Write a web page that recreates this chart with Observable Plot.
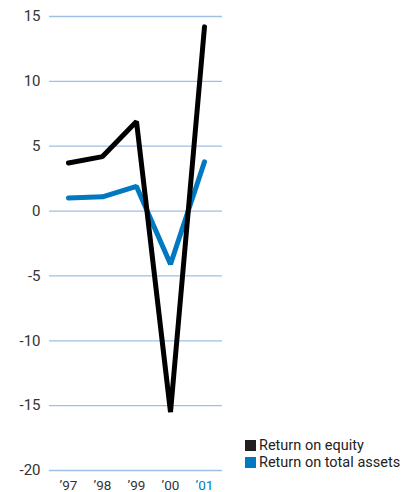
<!DOCTYPE html>
<html>
<head>
<meta charset="utf-8">
<script src="https://cdn.jsdelivr.net/npm/d3@7"></script>
<script src="https://cdn.jsdelivr.net/npm/@observablehq/plot@0.6"></script>
<style>
  body { margin: 0; background: #fff; font-family: Roboto, "Liberation Sans", sans-serif; }
  #wrap { position: relative; width: 415px; height: 492px; }
  #legend { position: absolute; left: 245px; top: 437px; font-size: 14.5px; color: #222; line-height: 17px; }
  #legend .sw { display: inline-block; width: 11px; height: 11px; margin-right: 3px; vertical-align: -1px; }
</style>
</head>
<body>
<div id="wrap"><div id="legend"></div></div>
<script>
const years = ["’97", "’98", "’99", "’00", "’01"];
const returnOnEquity = [3.7, 4.2, 6.9, -15.5, 14.2];
const returnOnTotalAssets = [1.0, 1.1, 1.9, -4.1, 3.8];
const yTicks = [15, 10, 5, 0, -5, -10, -15, -20];
const seriesNames = ["Return on equity", "Return on total assets"];
const seriesColors = ["#000000", "#0079c1"];

const rows = [];
years.forEach((y, i) => {
  rows.push({year: y, value: returnOnEquity[i], series: seriesNames[0]});
  rows.push({year: y, value: returnOnTotalAssets[i], series: seriesNames[1]});
});

const chart = Plot.plot({
  width: 415,
  height: 492,
  marginTop: 16,
  marginBottom: 22,
  marginLeft: 49,
  marginRight: 193,
  style: {fontFamily: "Roboto, 'Liberation Sans', sans-serif", background: "transparent"},
  x: {type: "point", domain: years, padding: 0.5, axis: null},
  y: {domain: [-20, 15], ticks: yTicks, axis: null},
  color: {domain: seriesNames, range: seriesColors},
  marks: [
    Plot.ruleY(yTicks, {stroke: "#9ec0e6", strokeWidth: 1.3}),
    Plot.axisY({ticks: yTicks, label: null, tickSize: 0, tickPadding: 9, tickFormat: d => String(d), fontSize: 15, fill: "#333", textAnchor: "end"}),
    Plot.line(rows.filter(d => d.series === seriesNames[1]), {x: "year", y: "value", stroke: seriesColors[1], strokeWidth: 5, strokeLinejoin: "miter", strokeLinecap: "round"}),
    Plot.line(rows.filter(d => d.series === seriesNames[0]), {x: "year", y: "value", stroke: seriesColors[0], strokeWidth: 5, strokeLinejoin: "miter", strokeLinecap: "round"}),
    Plot.text(years, {x: d => d, y: -20, dy: 15, text: d => d, fontSize: 13.5, fill: d => d === "’01" ? "#0079c1" : "#333"})
  ]
});
document.getElementById("wrap").prepend(chart);

const legend = document.getElementById("legend");
seriesNames.forEach((name, i) => {
  const row = document.createElement("div");
  row.innerHTML = `<span class="sw" style="background:${i === 0 ? "#231f20" : seriesColors[1]}"></span>${name}`;
  legend.appendChild(row);
});
</script>
</body>
</html>
